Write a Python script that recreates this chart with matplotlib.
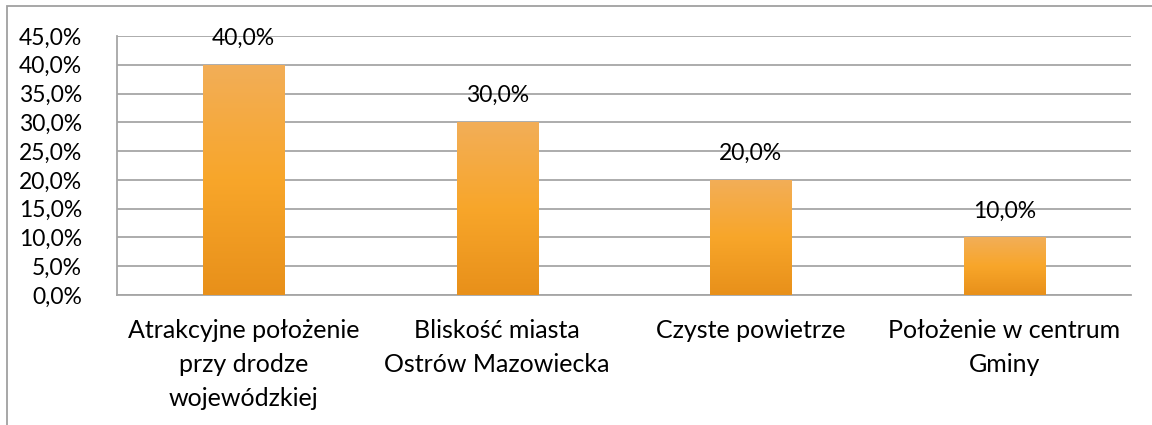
import numpy as np
import matplotlib
matplotlib.use('Agg')
from matplotlib import pyplot as plt
from matplotlib.patches import Rectangle
from matplotlib.colors import LinearSegmentedColormap

plt.rcParams['font.family'] = ['Lato', 'DejaVu Sans']

categories = ['Atrakcyjne położenie\nprzy drodze\nwojewódzkiej',
              'Bliskość miasta\nOstrów Mazowiecka',
              'Czyste powietrze',
              'Położenie w centrum\nGminy']
values = [40.0, 30.0, 20.0, 10.0]
y_ticks = [0, 5, 10, 15, 20, 25, 30, 35, 40, 45]

W, H = 1152, 425
fig = plt.figure(figsize=(W / 100, H / 100), dpi=100)
ax = fig.add_axes([117 / W, 1 - 295 / H, (1131 - 117) / W, (295 - 36) / H])

x = np.arange(len(values))
bars = ax.bar(x, values, width=0.32, color='#F5A22E', zorder=2)

# vertical orange gradient inside each bar
cmap = LinearSegmentedColormap.from_list('og', ['#E8901A', '#F8A62A', '#F2AE58'])
grad = np.linspace(0, 1, 256).reshape(-1, 1)
for b in bars:
    im = ax.imshow(grad, cmap=cmap, origin='lower', aspect='auto',
                   extent=[b.get_x(), b.get_x() + b.get_width(), 0, b.get_height()],
                   zorder=3)
    im.set_clip_path(b)

for xi, v in zip(x, values):
    ax.annotate(f'{v:.1f}%'.replace('.', ','), (xi, v), xytext=(0, 20),
                textcoords='offset pixels', ha='center', va='baseline', fontsize=16.5)

ax.set_xlim(-0.5, len(values) - 0.5)
ax.set_ylim(0, 45)
ax.set_yticks(y_ticks)
ax.set_yticklabels([f'{t:.1f}%'.replace('.', ',') for t in y_ticks], fontsize=16.5)
ax.set_xticks(x)
ax.set_xticklabels(categories, fontsize=18, linespacing=1.6)
ax.tick_params(axis='y', length=0, pad=25)
ax.tick_params(axis='x', length=0, pad=17)
ax.grid(axis='y', color='#A6A6A6', linewidth=1.3, zorder=1)
ax.set_axisbelow(True)
for s in ['top', 'right']:
    ax.spines[s].set_visible(False)
ax.spines['left'].set_color('#A6A6A6')
ax.spines['bottom'].set_color('#A6A6A6')
ax.spines['left'].set_linewidth(1.3)
ax.spines['bottom'].set_linewidth(1.3)

# outer chart border
fig.patches.append(Rectangle((7 / W, -0.1), 1.2, 1 - 6 / H + 0.1,
                             transform=fig.transFigure, fill=False,
                             edgecolor='#A0A0A0', linewidth=1.3))

fig.savefig('out.png', dpi=100)
